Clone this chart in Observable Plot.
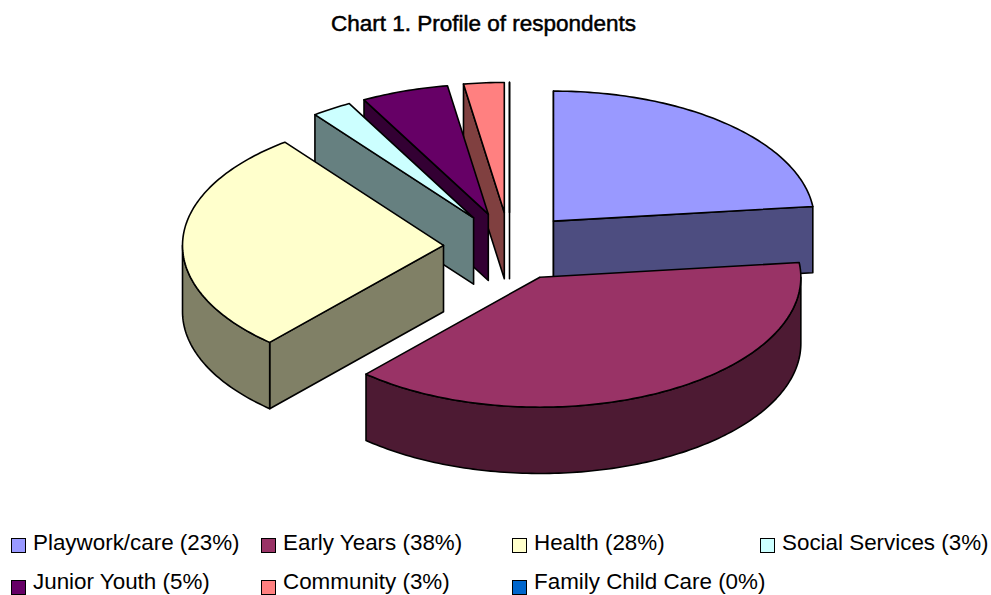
<!DOCTYPE html>
<html>
<head>
<meta charset="utf-8">
<script src="https://cdn.jsdelivr.net/npm/d3@7"></script>
<script src="https://cdn.jsdelivr.net/npm/@observablehq/plot@0.6"></script>
<style>
html,body{margin:0;padding:0;background:#fff;overflow:hidden}
#page{position:relative;width:991px;height:595px;overflow:hidden;font-family:"Liberation Sans",Arial,sans-serif;color:#000}
#title{position:absolute;left:0;top:12px;width:967px;text-align:center;font-size:22.5px;line-height:24px;font-weight:400;-webkit-text-stroke:0.5px #000}
#chart{position:absolute;left:0;top:46px}
.item{position:absolute;font-size:22.4px;line-height:24px;white-space:nowrap;height:22px}
.sw{display:inline-block;position:absolute;left:0;top:7px;width:15px;height:15px;border:1.5px solid #000;box-sizing:border-box}
.item span.t{position:absolute;left:22px;top:0}
.item.low span.t{top:-3px}
</style>
</head>
<body>
<div id="page">
<div id="title">Chart 1. Profile of respondents</div>
<div id="chart"></div>
<div id="legend"></div>
</div>
<script>
const categories = ["Playwork/care","Early Years","Health","Social Services","Junior Youth","Community","Family Child Care"];
const percentLabels = [23,38,28,3,5,3,0];
const shares = [23.2,38.4,28,2.5,5.4,2.5,0];
const topColors = ["#9999FF","#993366","#FFFFCC","#CCFFFF","#660066","#FF8080","#0066CC"];
const sideColors = ["#4D4D80","#4D1A33","#808066","#668080","#330033","#804040","#003366"];
const legendColumns = [11,261,512,760,11,261,512];
const legendRows = [531,531,531,531,573,573,573];

// Pie geometry, in units of the pie radius (y is the squashed, screen-down axis)
const explodeX = 0.253, explodeY = 0.264;
const depth = 0.51;
const total = d3.sum(shares);
const rad = d => d * Math.PI / 180;

let cum = 0;
const slices = categories.map((name,i) => {
  const start = cum / total * 2 * Math.PI;
  cum += shares[i];
  const end = cum / total * 2 * Math.PI;
  const mid = (start + end) / 2;
  const ax = explodeX * Math.sin(mid), ay = -explodeY * Math.cos(mid);
  return {name,i,start,end,ax,ay};
});

const rimPoint = (s,t,dz=0) => ({x:s.ax + Math.sin(t), y:s.ay - Math.cos(t) + dz});
function arc(s,a,b,dz=0){
  const n = Math.max(1,Math.ceil(Math.abs(b-a)/rad(1)));
  return d3.range(n+1).map(k => rimPoint(s,a+(b-a)*k/n,dz));
}
function wall(s,t){
  const p = rimPoint(s,t), q = rimPoint(s,t,depth);
  return [{x:s.ax,y:s.ay},p,q,{x:s.ax,y:s.ay+depth},{x:s.ax,y:s.ay}];
}
const poly = (pts,fill) => Plot.line(pts,{x:"x",y:"y",fill,stroke:"#000",strokeWidth:1.6,strokeLinejoin:"round",curve:"linear"});

const marks = [];
slices.slice().sort((a,b)=>a.ay-b.ay).forEach(s => {
  const side = sideColors[s.i], top = topColors[s.i];
  if (Math.sin(s.start) < 1e-9) marks.push(poly(wall(s,s.start),side));
  if (Math.sin(s.end) > 1e-9) marks.push(poly(wall(s,s.end),side));
  const a = Math.max(s.start,Math.PI/2), b = Math.min(s.end,3*Math.PI/2);
  if (b > a) {
    const upper = arc(s,a,b), lower = arc(s,a,b,depth).reverse();
    marks.push(poly([...upper,...lower,upper[0]],side));
  }
  const outer = arc(s,s.start,s.end);
  marks.push(poly([{x:s.ax,y:s.ay},...outer,{x:s.ax,y:s.ay}],top));
});

const cx = 509, cy = 200.2, rx = 261, ry = 130, W = 991, H = 480;
const chart = Plot.plot({
  width:W,height:H,margin:0,
  x:{domain:[-cx/rx,(W-cx)/rx],range:[0,W],axis:null},
  y:{domain:[-cy/ry,(H-cy)/ry],range:[0,H],axis:null},
  style:{background:"transparent"},
  marks
});
document.getElementById("chart").append(chart);

const legend = document.getElementById("legend");
categories.forEach((name,i)=>{
  const el = document.createElement("div");
  el.className = i > 3 ? "item low" : "item";
  el.style.left = legendColumns[i]+"px";
  el.style.top = legendRows[i]+"px";
  const sw = document.createElement("span");
  sw.className = "sw"; sw.style.background = topColors[i];
  const t = document.createElement("span");
  t.className = "t"; t.textContent = `${name} (${percentLabels[i]}%)`;
  el.append(sw,t);
  legend.append(el);
});
</script>
</body>
</html>
